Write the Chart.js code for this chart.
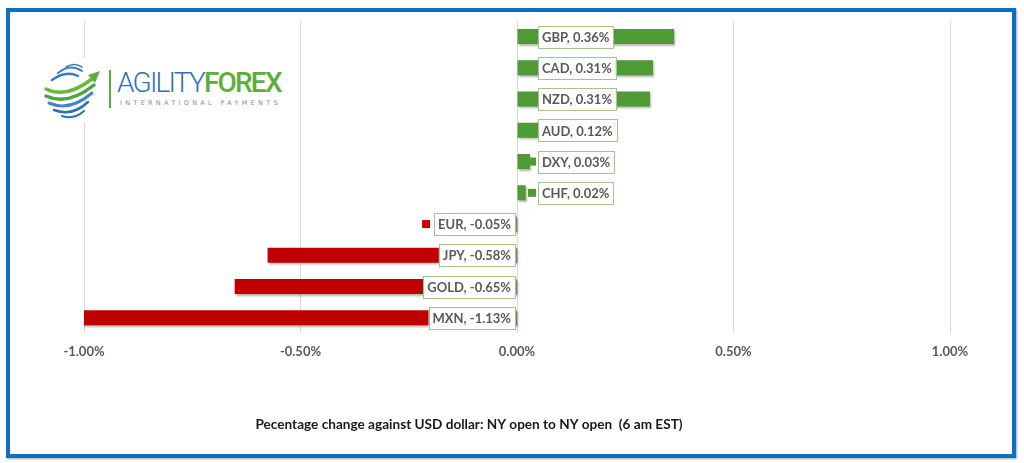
<!DOCTYPE html>
<html lang="en">
<head>
    <meta charset="UTF-8">
    <title>FX change vs USD</title>
    <script src="https://cdn.jsdelivr.net/npm/chart.js"></script>
    <style>
        body { margin: 0; background: #fff; }
        #frame {
            position: absolute; left: 6px; top: 8px; width: 1002px; height: 442px;
            border: 4px solid #0b6fc4; box-shadow: 1px 1px 2px rgba(0,0,0,0.35);
        }
        #wrap { position: absolute; left: 0; top: 0; width: 1024px; height: 463px; }
        #logo {
            position: absolute; left: 34px; top: 58px; width: 262px; height: 64px;
            background: #fff;
        }
        #logo .bar { position: absolute; left: 75px; top: 12px; width: 2px; height: 38px; background: #5aab3a; }
        #logo .name {
            position: absolute; left: 83px; top: 9px; font-family: Roboto, sans-serif;
            font-size: 28px; letter-spacing: -1.8px; line-height: 32px; white-space: nowrap;
        }
        #logo .name .a { color: #2f6fb7; font-weight: 300; }
        #logo .name .f { color: #5cae3b; font-weight: 500; }
        #logo .sub {
            position: absolute; left: 86px; top: 41px; font-family: "DejaVu Sans", sans-serif;
            font-size: 6.5px; letter-spacing: 3.3px; color: #8a8a8a; white-space: nowrap;
        }
    </style>
</head>
<body>
    <div id="wrap"><canvas id="fx-chart" width="1024" height="463"></canvas></div>
    <div id="frame"></div>
    <div id="logo">
        <svg width="64" height="64" style="position:absolute;left:8px;top:1px" fill="none" stroke-linecap="round">
            <path d="M24 8 Q32 3 40 8" stroke="#3b7cc4" stroke-width="1.5"/>
            <path d="M16 14 Q28 4 40 12" stroke="#3b7cc4" stroke-width="2"/>
            <path d="M10 21 Q24 11 36 17" stroke="#3b7cc4" stroke-width="2.5"/>
            <path d="M4 30 Q24 40 50 20" stroke="#6cb83e" stroke-width="3.5"/>
            <path d="M4 37 Q26 47 52 26" stroke="#4fa33a" stroke-width="3.5"/>
            <path d="M7 44 Q28 53 50 34" stroke="#3f86c8" stroke-width="3"/>
            <path d="M12 51 Q30 58 46 43" stroke="#2f6fb7" stroke-width="2.5"/>
            <path d="M20 57 Q32 61 42 52" stroke="#2f6fb7" stroke-width="2"/>
            <path d="M46 16 L58 12 L53 24 Z" fill="#5cae3b" stroke="none"/>
        </svg>
        <div class="bar"></div>
        <div class="name"><span class="a">AGILITY</span><span class="f">FOREX</span></div>
        <div class="sub">INTERNATIONAL PAYMENTS</div>
    </div>

    <script>
        const categories = ['GBP', 'CAD', 'NZD', 'AUD', 'DXY', 'CHF', 'EUR', 'JPY', 'GOLD', 'MXN'];
        const changes = [0.363, 0.314, 0.307, 0.12, 0.03, 0.02, -0.05, -0.576, -0.652, -1.13];
        const tickValues = [-1.0, -0.5, 0.0, 0.5, 1.0];
        const footTitle = 'Pecentage change against USD dollar: NY open to NY open  (6 am EST)';

        const GREEN = '#4e9a34';
        const RED = '#c00000';

        function pct(v) {
            return (Math.round(v * 100) / 100).toFixed(2) + '%';
        }

        // light shadow under the bars, like the excel original
        const barShadow = {
            id: 'barShadow',
            beforeDatasetDraw(chart) {
                const ctx = chart.ctx;
                ctx.save();
                ctx.shadowColor = 'rgba(0,0,0,0.3)';
                ctx.shadowOffsetX = 1;
                ctx.shadowOffsetY = 1.5;
                ctx.shadowBlur = 2;
            },
            afterDatasetDraw(chart) {
                chart.ctx.restore();
            }
        };

        // boxed data labels sitting at the zero line, with a small key square
        const boxLabels = {
            id: 'boxLabels',
            afterDatasetsDraw(chart) {
                const ctx = chart.ctx;
                const meta = chart.getDatasetMeta(0);
                const zeroX = chart.scales.x.getPixelForValue(0);
                ctx.save();
                ctx.font = 'bold 13px Lato, sans-serif';
                ctx.textBaseline = 'middle';
                meta.data.forEach((el, i) => {
                    const v = changes[i];
                    const txt = categories[i] + ', ' + pct(v);
                    const w = ctx.measureText(txt).width + 8;
                    const h = 22;
                    const y = el.y;
                    let left, keyX;
                    if (v >= 0) {
                        left = zeroX + 21;
                        keyX = zeroX + 11;
                    } else {
                        left = zeroX - 2 - w;
                        keyX = left - 12;
                    }
                    ctx.fillStyle = v >= 0 ? GREEN : RED;
                    ctx.fillRect(keyX, y - 4, 8, 8);
                    ctx.fillStyle = '#fff';
                    ctx.fillRect(left, y - h / 2, w, h);
                    ctx.strokeStyle = '#a3c48f';
                    ctx.lineWidth = 1;
                    ctx.strokeRect(Math.round(left) + 0.5, Math.round(y - h / 2) + 0.5, Math.round(w), h);
                    ctx.fillStyle = '#595959';
                    ctx.fillText(txt, left + 4, y + 1);
                });
                ctx.restore();
            }
        };

        const footNote = {
            id: 'footNote',
            afterDraw(chart) {
                const ctx = chart.ctx;
                ctx.save();
                ctx.font = 'bold 13.6px Lato, sans-serif';
                ctx.fillStyle = '#1a1a1a';
                ctx.textAlign = 'center';
                ctx.textBaseline = 'middle';
                ctx.fillText(footTitle, 469, 425);
                ctx.restore();
            }
        };

        const ctx = document.getElementById('fx-chart').getContext('2d');
        new Chart(ctx, {
            type: 'bar',
            data: {
                labels: categories,
                datasets: [{
                    data: changes,
                    backgroundColor: changes.map(v => v >= 0 ? GREEN : RED),
                    borderWidth: 0,
                    categoryPercentage: 1,
                    barPercentage: 0.48
                }]
            },
            options: {
                indexAxis: 'y',
                responsive: false,
                animation: false,
                layout: { padding: { left: 84, right: 74, top: 21, bottom: 92 } },
                plugins: {
                    legend: { display: false },
                    tooltip: { enabled: false }
                },
                scales: {
                    x: {
                        min: -1,
                        max: 1,
                        afterBuildTicks(axis) {
                            axis.ticks = tickValues.map(v => ({ value: v }));
                        },
                        grid: { color: '#d9d9d9', drawTicks: false },
                        border: { display: false },
                        ticks: {
                            padding: 11,
                            color: '#595959',
                            font: { family: 'Lato', size: 13, weight: 'bold' },
                            callback: v => pct(v)
                        }
                    },
                    y: { display: false }
                }
            },
            plugins: [barShadow, boxLabels, footNote]
        });
    </script>
</body>
</html>
